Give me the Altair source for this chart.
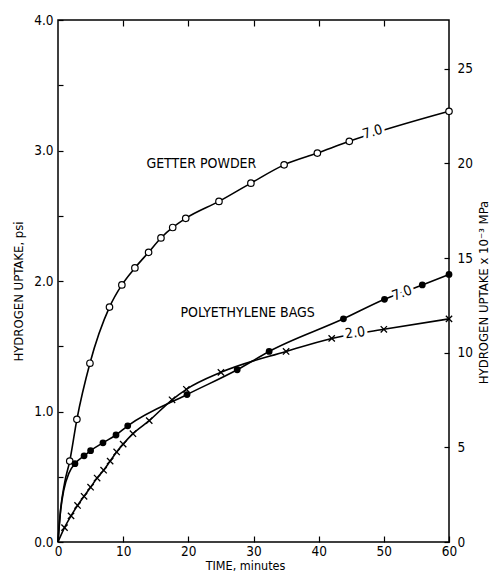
import altair as alt
import pandas as pd

FONT = "DejaVu Sans Condensed, Liberation Sans Narrow, sans-serif"

# Getter powder (open circles)
getter_t = [1.8, 2.9, 4.9, 7.9, 9.8, 11.8, 13.9, 15.8, 17.6, 19.6, 24.7, 29.6, 34.7, 39.8, 44.7, 60]
getter_p = [0.62, 0.94, 1.37, 1.80, 1.97, 2.10, 2.22, 2.33, 2.41, 2.48, 2.61, 2.75, 2.89, 2.98, 3.07, 3.30]
getter_start_t = [0, 0.4, 1.0]
getter_start_p = [0, 0.25, 0.45]

# Polyethylene bags 7.0 (filled circles)
poly7_t = [2.6, 4.0, 5.0, 6.9, 8.9, 10.7, 19.8, 27.5, 32.4, 43.8, 50.1, 55.9, 60]
poly7_p = [0.60, 0.66, 0.70, 0.76, 0.82, 0.89, 1.13, 1.32, 1.46, 1.71, 1.86, 1.97, 2.05]
poly7_start_t = [0, 0.4, 0.9, 1.7]
poly7_start_p = [0, 0.24, 0.40, 0.53]

# Polyethylene bags 2.0 (crosses)
poly2_t = [1, 2, 3, 4, 5, 6, 7, 8, 9, 10, 11.5, 14, 17.5, 19.7, 25, 35, 42, 50, 60]
poly2_p = [0.11, 0.20, 0.28, 0.35, 0.42, 0.49, 0.55, 0.62, 0.69, 0.75, 0.83, 0.93, 1.09, 1.17, 1.30, 1.46, 1.56, 1.63, 1.71]
poly2_start_t = [0]
poly2_start_p = [0]

# Curve labels
label_text = ["7.0", "7.0", "2.0"]
label_t = [48.3, 52.8, 45.6]
label_p = [3.14, 1.905, 1.60]
label_angle = [343, 339, 352]

# Group labels
group_text = ["GETTER POWDER", "POLYETHYLENE BAGS"]
group_t = [22.0, 29.1]
group_p = [2.90, 1.755]

PSI_TO_KPA = 6.894757

rows = []
for s, st, sp, mt, mp in [
    ("getter", getter_start_t, getter_start_p, getter_t, getter_p),
    ("poly7", poly7_start_t, poly7_start_p, poly7_t, poly7_p),
    ("poly2", poly2_start_t, poly2_start_p, poly2_t, poly2_p),
]:
    for t, p in zip(st + mt, sp + mp):
        rows.append({"series": s, "t": t, "p": p})
lines_df = pd.DataFrame(rows)

getter_df = pd.DataFrame({"t": getter_t, "p": getter_p})
poly7_df = pd.DataFrame({"t": poly7_t, "p": poly7_p})
poly2_df = pd.DataFrame({"t": poly2_t, "p": poly2_p})
labels_df = pd.DataFrame({"txt": label_text, "t": label_t, "p": label_p, "ang": label_angle})
groups_df = pd.DataFrame({"txt": group_text, "t": group_t, "p": group_p})

xs = alt.Scale(domain=[0, 60], nice=False)
ys = alt.Scale(domain=[0, 4], nice=False)

common = dict(
    labelFont=FONT, titleFont=FONT, labelColor="black", titleColor="black",
    tickColor="black", tickWidth=1.2, titleFontWeight="normal",
    labelFontSize=13.5, grid=False, domain=False,
    labelFlush=False, labelOverlap=False,
)

x_axis = alt.Axis(
    values=[0, 10, 20, 30, 40, 50, 60], format="d", title="TIME, minutes",
    offset=-6, tickSize=6, labelPadding=2, titlePadding=2, titleX=187,
    titleFontSize=12.5, **common,
)
y_axis = alt.Axis(
    values=[0, 0.5, 1, 1.5, 2, 2.5, 3, 3.5, 4],
    labelExpr="datum.value % 1 == 0 ? format(datum.value, '.1f') : ''",
    title="HYDROGEN UPTAKE, psi", offset=-5, tickSize=5,
    labelPadding=5, titlePadding=8, titleY=271, titleFontSize=13, **common,
)

X = alt.X("t:Q", scale=xs, axis=x_axis)
Y = alt.Y("p:Q", scale=ys, axis=y_axis)

lines = alt.Chart(lines_df).mark_line(
    color="black", strokeWidth=1.6, interpolate="monotone"
).encode(x=X, y=Y, detail="series:N", order="t:Q")

open_pts = alt.Chart(getter_df).mark_point(
    shape="circle", filled=True, fill="white", stroke="black", strokeWidth=1.2, size=42, opacity=1
).encode(x=X, y=Y)

filled_pts = alt.Chart(poly7_df).mark_point(
    shape="circle", filled=True, color="black", size=46, opacity=1
).encode(x=X, y=Y)

cross_pts = alt.Chart(poly2_df).mark_point(
    shape="M-1,-1L1,1M-1,1L1,-1", filled=False, stroke="black", strokeWidth=1.3, size=40, opacity=1
).encode(x=X, y=Y)

halo = alt.Chart(labels_df).mark_text(
    font=FONT, fontSize=14, stroke="white", strokeWidth=6, fill="white",
    align="center", baseline="middle"
).encode(x=X, y=Y, text="txt:N", angle=alt.Angle("ang:Q", scale=None))

label_txt = alt.Chart(labels_df).mark_text(
    font=FONT, fontSize=14, color="black", align="center", baseline="middle"
).encode(x=X, y=Y, text="txt:N", angle=alt.Angle("ang:Q", scale=None))

groups = alt.Chart(groups_df).mark_text(
    font=FONT, fontSize=14, color="black", align="center", baseline="middle"
).encode(x=X, y=Y, text="txt:N")

psi_layer = alt.layer(lines, open_pts, filled_pts, cross_pts, halo, label_txt, groups)

right_layer = alt.Chart(getter_df).transform_calculate(
    mpa=f"datum.p * {PSI_TO_KPA}"
).mark_point(opacity=0).encode(
    x=alt.X("t:Q", scale=alt.Scale(domain=[0, 60], nice=False),
            axis=alt.Axis(orient="top", values=[10, 20, 30, 40, 50], labels=False,
                          title=None, offset=-6, tickSize=6, tickColor="black",
                          tickWidth=1.2, domain=False, grid=False)),
    y=alt.Y("mpa:Q", scale=alt.Scale(domain=[0, 4 * PSI_TO_KPA], nice=False),
            axis=alt.Axis(orient="right", values=[0, 5, 10, 15, 20, 25],
                          title="HYDROGEN UPTAKE x 10⁻³ MPa", titleAngle=270,
                          offset=-5, tickSize=5, labelPadding=8,
                          titlePadding=18, titleY=272, titleFontSize=13, **common)),
)

chart = alt.layer(psi_layer, right_layer).resolve_scale(
    x="independent", y="independent"
).properties(
    width=391, height=522,
    background="white",
    autosize=alt.AutoSizeParams(type="none"),
    padding={"left": 50, "top": 12, "right": 42, "bottom": 36},
).configure_view(
    stroke="black", strokeWidth=1.5
)

chart.save("out.html", embed_options={"renderer": "svg", "actions": False})
